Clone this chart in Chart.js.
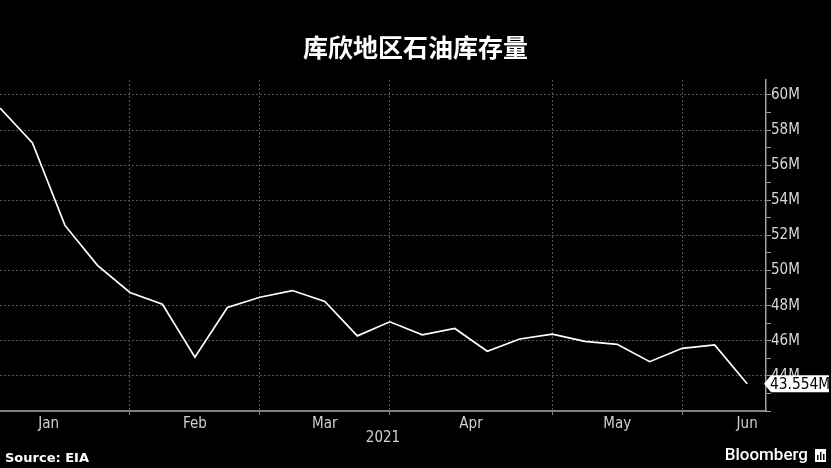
<!DOCTYPE html>
<html>
<head>
<meta charset="utf-8">
<script src="https://cdn.jsdelivr.net/npm/chart.js@4.4.1/dist/chart.umd.min.js"></script>
<style>
html,body{margin:0;padding:0;background:#000;overflow:hidden}
#wrap{width:831px;height:468px;position:relative}
</style>
</head>
<body>
<div id="wrap"><canvas id="c" width="831" height="468"></canvas></div>
<script>
// ---- data (weekly Cushing crude inventories, millions of barrels) ----
const weekIndex = [0,1,2,3,4,5,6,7,8,9,10,11,12,13,14,15,16,17,18,19,20,21,22,23];
const inventoryM = [59.26,57.27,52.57,50.30,48.75,48.08,45.06,47.90,48.48,48.86,48.24,46.28,
                    47.08,46.34,46.70,45.40,46.10,46.38,45.97,45.80,44.81,45.57,45.76,43.554];
const monthLabels = ['Jan','Feb','Mar','Apr','May','Jun'];
const monthLabelPos = [1.5,6,10,14.5,19,23];
const monthBoundaries = [4,8,12,17,21];
const yTickValues = [42,43,44,45,46,47,48,49,50,51,52,53,54,55,56,57,58,59,60];
const yLabelValues = [44,46,48,50,52,54,56,58,60];
const titleText = '库欣地区石油库存量';
const yearLabel = '2021';
const sourceText = 'Source: EIA';

const tickFont = "'Liberation Sans Narrow','DejaVu Sans Condensed',sans-serif";

const extras = {
  id: 'extras',
  beforeDraw(chart) {
    const ctx = chart.ctx;
    ctx.save();
    ctx.fillStyle = '#000';
    ctx.fillRect(0, 0, chart.width, chart.height);
    ctx.restore();
  },
  afterDraw(chart) {
    const ctx = chart.ctx;
    const ys = chart.scales.y;
    const last = inventoryM[inventoryM.length - 1];
    const py = ys.getPixelForValue(last);
    const x0 = chart.chartArea.right;
    ctx.save();
    // value box
    ctx.fillStyle = '#fff';
    ctx.beginPath();
    ctx.moveTo(x0 - 2, py);
    ctx.lineTo(x0 + 5, py - 8.5);
    ctx.lineTo(829, py - 8.5);
    ctx.lineTo(829, py + 8.5);
    ctx.lineTo(x0 + 5, py + 8.5);
    ctx.closePath();
    ctx.fill();
    ctx.fillStyle = '#000';
    ctx.font = "15.3px " + tickFont;
    ctx.textBaseline = 'middle';
    ctx.textAlign = 'left';
    ctx.fillText(last.toFixed(3) + 'M', x0 + 4, py + 1);
    // source
    ctx.fillStyle = '#fff';
    ctx.font = "bold 13px 'DejaVu Sans'";
    ctx.textBaseline = 'middle';
    ctx.fillText(sourceText, 5, 459);
    // Bloomberg
    ctx.font = "500 17px Roboto, 'Liberation Sans', sans-serif";
    ctx.textAlign = 'right';
    ctx.fillText('Bloomberg', 808, 456);
    // logo icon
    ctx.fillStyle = '#fff';
    ctx.fillRect(815, 449, 11, 13);
    ctx.fillStyle = '#000';
    ctx.fillRect(817, 455, 1.5, 5);
    ctx.fillRect(820, 452, 1.5, 8);
    ctx.fillRect(823, 454, 1.5, 6);
    ctx.restore();
  }
};

new Chart(document.getElementById('c'), {
  type: 'line',
  data: {
    datasets: [{
      data: weekIndex.map((x, i) => ({x: x, y: inventoryM[i]})),
      borderColor: '#ffffff',
      borderWidth: 1.7,
      pointRadius: 0,
      tension: 0,
      fill: false
    }]
  },
  options: {
    responsive: false,
    animation: false,
    devicePixelRatio: 1,
    layout: {padding: {left: 0, right: 0, top: 0, bottom: 0}},
    plugins: {
      legend: {display: false},
      tooltip: {enabled: false},
      title: {
        display: true,
        text: titleText,
        color: '#ffffff',
        font: {family: "'Noto Sans CJK SC'", size: 25, weight: 'bold', lineHeight: 1.2},
        padding: {top: 32, bottom: 18}
      }
    },
    scales: {
      x: {
        type: 'linear',
        position: 'bottom',
        min: 0,
        max: 23.58,
        afterBuildTicks: s => {
          s.ticks = monthBoundaries.concat(monthLabelPos).sort((a, b) => a - b).map(v => ({value: v}));
        },
        afterFit: s => { s.height = 57; },
        ticks: {
          autoSkip: false,
          maxRotation: 0,
          color: '#d0d0d0',
          padding: 0,
          font: {family: tickFont, size: 15},
          callback: v => {
            const i = monthLabelPos.indexOf(v);
            return i >= 0 ? monthLabels[i] : '';
          }
        },
        grid: {
          color: c => (c.tick && monthBoundaries.includes(c.tick.value)) ? '#555555' : 'rgba(0,0,0,0)',
          tickColor: c => (c.tick && monthBoundaries.includes(c.tick.value)) ? '#8a8a8a' : 'rgba(0,0,0,0)',
          tickLength: 4,
          lineWidth: 1,
          tickBorderDash: []
        },
        border: {display: true, color: '#808080', width: 2, dash: [2, 2]},
        title: {
          display: true,
          text: yearLabel,
          color: '#d0d0d0',
          font: {family: tickFont, size: 15},
          padding: {top: 0, bottom: 21}
        }
      },
      y: {
        type: 'linear',
        position: 'right',
        min: 42,
        max: 60.854,
        afterBuildTicks: s => { s.ticks = yTickValues.map(v => ({value: v})); },
        afterFit: s => { s.width = 65; },
        ticks: {
          autoSkip: false,
          color: '#d8d8d8',
          padding: 0,
          font: {family: tickFont, size: 15},
          callback: v => (yLabelValues.includes(v) ? v + 'M' : '')
        },
        grid: {
          color: c => (c.tick && c.tick.value % 2 === 0 && c.tick.value > 42) ? '#555555' : 'rgba(0,0,0,0)',
          tickColor: '#a0a0a0',
          tickLength: 5,
          lineWidth: 1,
          tickBorderDash: []
        },
        border: {display: true, color: '#a0a0a0', width: 1.5, dash: [2, 2]}
      }
    }
  },
  plugins: [extras]
});
</script>
</body>
</html>
